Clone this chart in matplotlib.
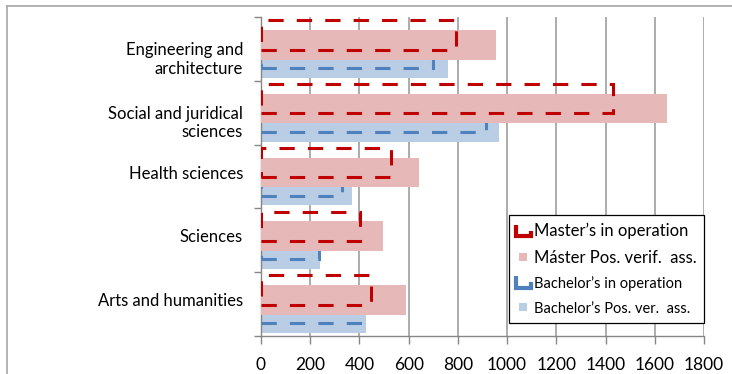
import matplotlib

matplotlib.use("Agg")

import matplotlib.pyplot as plt
import numpy as np
from matplotlib.legend_handler import HandlerBase
from matplotlib.lines import Line2D
from matplotlib.patches import Patch, Rectangle

# bottom to top, as drawn
categories = [
    "Arts and humanities",
    "Sciences",
    "Health sciences",
    "Social and juridical\nsciences",
    "Engineering and\narchitecture",
]
master_in_operation = [446, 403, 530, 1429, 791]
master_pos_verif = [588, 494, 641, 1651, 956]
bachelor_in_operation = [402, 237, 330, 916, 697]
bachelor_pos_verif = [425, 239, 368, 966, 759]
x_ticks = [0, 200, 400, 600, 800, 1000, 1200, 1400, 1600, 1800]

RED = "#C00000"
PINK = "#E6B9B8"
BLUE = "#4F81BD"
LIGHT_BLUE = "#B9CDE5"
GRID = "#A6A6A6"

plt.rcParams["font.family"] = ["Lato", "DejaVu Sans"]


class OutlineKey(HandlerBase):
    def create_artists(self, legend, orig_handle, xdescent, ydescent,
                       width, height, fontsize, trans):
        x0, y0 = -xdescent, -ydescent
        line = Line2D(
            [x0, x0, x0 + width, x0 + width],
            [y0 + height, y0, y0, y0 + height * 0.45],
            color=orig_handle.get_edgecolor(),
            lw=3.0,
            solid_joinstyle="miter",
            solid_capstyle="butt",
            transform=trans,
        )
        return [line]


class SquareKey(HandlerBase):
    def create_artists(self, legend, orig_handle, xdescent, ydescent,
                       width, height, fontsize, trans):
        side = 6.0
        x0 = -xdescent + 2
        y0 = -ydescent + (height - side) / 2
        rect = Rectangle((x0, y0), side, side,
                         facecolor=orig_handle.get_facecolor(),
                         edgecolor="none", transform=trans)
        return [rect]


fig = plt.figure(figsize=(7.32, 3.74), dpi=100)
ax = fig.add_axes([261 / 732, 38 / 374, 443 / 732, 319 / 374])

y = np.arange(len(categories))
dash = (0, (5, 4.3))

ax.barh(y - 0.31, bachelor_pos_verif, height=0.286, color=LIGHT_BLUE, zorder=2)
ax.barh(y - 0.07, bachelor_in_operation, height=0.46, fill=False,
        edgecolor=BLUE, linewidth=2.2, linestyle=dash, zorder=3)
ax.barh(y + 0.064, master_pos_verif, height=0.462, color=PINK, zorder=4)
ax.barh(y + 0.22, master_in_operation, height=0.46, fill=False,
        edgecolor=RED, linewidth=2.2, linestyle=dash, zorder=5)

ax.set_xlim(0, 1800)
ax.set_ylim(-0.5, len(categories) - 0.5)
ax.set_xticks(x_ticks)
ax.set_xticklabels([str(t) for t in x_ticks], fontsize=12.5)

# wrapped labels sit a little low, single-line ones a little high
label_shift = np.array([-0.12 if "\n" in c else 0.07 for c in categories])
ax.set_yticks(y + label_shift)
ax.set_yticklabels(categories, fontsize=12, ha="right", multialignment="right")
ax.set_yticks(np.arange(-0.5, len(categories)), minor=True)

ax.tick_params(axis="y", which="major", length=0, pad=13)
ax.tick_params(axis="y", which="minor", length=5, width=1, color="#868686")
ax.tick_params(axis="x", length=6, width=1, color="#868686", pad=9)

ax.grid(axis="x", color=GRID, linewidth=1.3, zorder=0)
ax.set_axisbelow(True)
for side in ("top", "right"):
    ax.spines[side].set_visible(False)
for side in ("left", "bottom"):
    ax.spines[side].set_color("#868686")
    ax.spines[side].set_linewidth(1)

handles = [
    Patch(facecolor="none", edgecolor=RED),
    Patch(facecolor=PINK, edgecolor="none"),
    Patch(facecolor="none", edgecolor=BLUE),
    Patch(facecolor=LIGHT_BLUE, edgecolor="none"),
]
labels = [
    "Master’s in operation",
    "Máster Pos. verif.  ass.",
    "Bachelor’s in operation",
    "Bachelor’s Pos. ver.  ass.",
]
handler_map = {
    handles[0]: OutlineKey(),
    handles[1]: SquareKey(),
    handles[2]: OutlineKey(),
    handles[3]: SquareKey(),
}
leg = ax.legend(
    handles, labels, handler_map=handler_map,
    loc="lower right", bbox_to_anchor=(1.0, 0.04), borderaxespad=0,
    fontsize=12, handlelength=0.85, handleheight=0.7, handletextpad=0.2,
    labelspacing=0.62, borderpad=0.45, fancybox=False, framealpha=1,
)
leg.get_frame().set_edgecolor("black")
leg.get_frame().set_linewidth(0.9)
leg.set_zorder(10)
for text in leg.get_texts()[2:]:
    text.set_fontsize(10.5)

# outer chart border (cropped at right and bottom)
fig.add_artist(Line2D([7 / 732, 7 / 732], [0, 1 - 6 / 374], color=GRID, lw=1.2))
fig.add_artist(Line2D([7 / 732, 1], [1 - 6 / 374, 1 - 6 / 374], color=GRID, lw=1.2))

fig.savefig("out.png", dpi=100)
plt.close(fig)
